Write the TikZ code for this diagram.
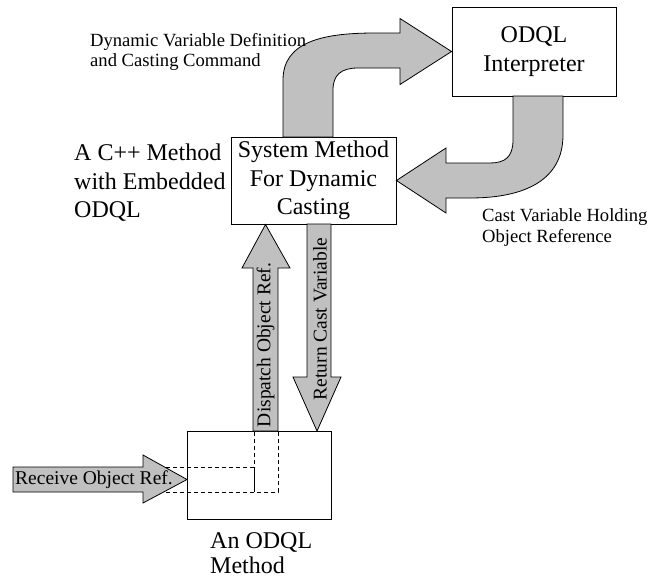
\documentclass[tikz,border=0pt]{standalone}
\usepackage{fontspec}
\setmainfont{Liberation Serif}
\definecolor{arrowgray}{RGB}{192,192,192}
\newcommand\bigfont{\fontsize{24}{28.5}\selectfont}
\newcommand\midfont{\fontsize{19.5}{22}\selectfont}
\newcommand\smallfont{\fontsize{18.6}{20.7}\selectfont}
\begin{document}
\begin{tikzpicture}[x=1pt,y=-1pt,
  box/.style={draw, line width=0.9pt, fill=white, inner sep=0pt, align=center, font=\bigfont},
  arr/.style={draw, fill=arrowgray, line width=0.8pt, line join=miter},
  lbl/.style={inner sep=0pt, align=left, anchor=west},
  hidden/.style={line width=0.8pt, dash pattern=on 4pt off 3pt}]
\useasboundingbox (0,0) rectangle (648,579);
% boxes
\node[box, minimum width=164pt, minimum height=89pt] (odql) at (534,51.5) {ODQL\\Interpreter};
\node[box, minimum width=165pt, minimum height=87pt] (sys) at (313.5,180.5) {System Method\\For Dynamic\\Casting};
\node[box, minimum width=144pt, minimum height=88pt] (odm) at (259,475) {};
% top curved arrow
\draw[arr] (283,137) -- (283,80) .. controls (283,42) and (322,33) .. (375,33) -- (400,33) -- (400,18.5) -- (odql.west) -- (400,84.5) -- (400,68) -- (358,68) .. controls (341,68) and (333,75) .. (333,90) -- (333,137) -- cycle;
% right curved arrow
\draw[arr] (513,96) -- (513,140) .. controls (513,157) and (505,163) .. (490,163) -- (446,163) -- (446,148) -- (sys.east) -- (446,213) -- (446,198) -- (470,198) .. controls (525,198) and (563,180) .. (563,135) -- (563,96) -- cycle;
% dispatch arrow
\draw[arr] (253,431) -- (253,268) -- (242,268) -- (265.5,224.5) -- (290,268) -- (278,268) -- (278,431) -- cycle;
% return arrow
\draw[arr] (307,224) -- (307,377) -- (293,377) -- (317,431) -- (341,377) -- (331,377) -- (331,224) -- cycle;
% receive arrow
\draw[arr] (13,467) -- (143,467) -- (143,455) -- (187,479.5) -- (143,503) -- (143,492) -- (13,492) -- cycle;
% hidden lines in the ODQL method box
\draw[hidden] (166,467) -- (254,467) -- (254,431);
\draw[hidden] (166,492) -- (278,492) -- (278,431);
\draw[line width=0.8pt] (254,467) -- (254,492);
% labels
\node[lbl, font=\smallfont] (dvd) at (90,52) {Dynamic Variable Definition\\and Casting Command};
\node[lbl, font=\smallfont] (cvh) at (482,227.5) {Cast Variable Holding\\Object Reference};
\node[lbl, font=\bigfont] (cpp) at (74,183) {A C++ Method\\with Embedded\\ODQL};
\node[lbl, font=\fontsize{24}{25.5}\selectfont] (odml) at (210,553) {An ODQL\\Method};
\node[font=\midfont, rotate=90, inner sep=0pt] (dor) at (265.5,345) {Dispatch Object Ref.};
\node[font=\midfont, rotate=90, inner sep=0pt] (rcv) at (320,319) {Return Cast Variable};
\node[lbl, font=\midfont] (ror) at (15,479.5) {Receive Object Ref.};
\end{tikzpicture}
\end{document}
